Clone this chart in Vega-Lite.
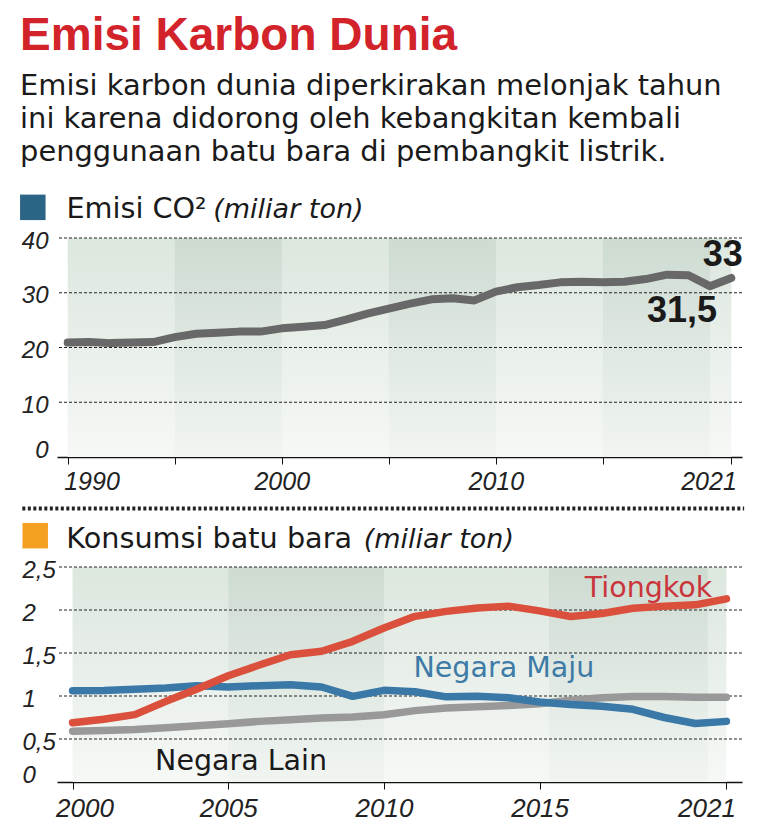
{
  "$schema": "https://vega.github.io/schema/vega-lite/v6.json",
  "background": "white",
  "padding": {"left": 20, "top": 12, "right": 16, "bottom": 4},
  "title": {
    "text": "Emisi Karbon Dunia",
    "subtitle": ["Emisi karbon dunia diperkirakan melonjak tahun", "ini karena didorong oleh kebangkitan kembali", "penggunaan batu bara di pembangkit listrik."],
    "anchor": "start",
    "frame": "bounds",
    "font": "Liberation Sans",
    "fontSize": 46,
    "fontWeight": "bold",
    "color": "#d2232a",
    "subtitleFont": "DejaVu Sans",
    "subtitleFontSize": 28.9,
    "subtitleColor": "#1a1a1a",
    "subtitleLineHeight": 33,
    "subtitlePadding": 12,
    "offset": 27
  },
  "datasets": {
    "co2": [
      {"year": 1990, "value": 20.9}, {"year": 1991, "value": 21.0}, {"year": 1992, "value": 20.8}, {"year": 1993, "value": 20.9},
      {"year": 1994, "value": 21.0}, {"year": 1995, "value": 21.9}, {"year": 1996, "value": 22.5}, {"year": 1997, "value": 22.7},
      {"year": 1998, "value": 22.9}, {"year": 1999, "value": 22.9}, {"year": 2000, "value": 23.5}, {"year": 2001, "value": 23.8},
      {"year": 2002, "value": 24.1}, {"year": 2003, "value": 25.1}, {"year": 2004, "value": 26.2}, {"year": 2005, "value": 27.1},
      {"year": 2006, "value": 28.0}, {"year": 2007, "value": 28.8}, {"year": 2008, "value": 29.0}, {"year": 2009, "value": 28.6},
      {"year": 2010, "value": 30.2}, {"year": 2011, "value": 31.0}, {"year": 2012, "value": 31.4}, {"year": 2013, "value": 31.9},
      {"year": 2014, "value": 32.0}, {"year": 2015, "value": 31.9}, {"year": 2016, "value": 32.0}, {"year": 2017, "value": 32.5},
      {"year": 2018, "value": 33.3}, {"year": 2019, "value": 33.2}, {"year": 2020, "value": 31.2}, {"year": 2021, "value": 32.7}
    ],
    "coal": [
      {"year": 2000, "series": "Negara Lain", "value": 0.59}, {"year": 2001, "series": "Negara Lain", "value": 0.60},
      {"year": 2002, "series": "Negara Lain", "value": 0.61}, {"year": 2003, "series": "Negara Lain", "value": 0.63},
      {"year": 2004, "series": "Negara Lain", "value": 0.655}, {"year": 2005, "series": "Negara Lain", "value": 0.678},
      {"year": 2006, "series": "Negara Lain", "value": 0.705}, {"year": 2007, "series": "Negara Lain", "value": 0.725},
      {"year": 2008, "series": "Negara Lain", "value": 0.744}, {"year": 2009, "series": "Negara Lain", "value": 0.756},
      {"year": 2010, "series": "Negara Lain", "value": 0.783}, {"year": 2011, "series": "Negara Lain", "value": 0.83},
      {"year": 2012, "series": "Negara Lain", "value": 0.86}, {"year": 2013, "series": "Negara Lain", "value": 0.875},
      {"year": 2014, "series": "Negara Lain", "value": 0.89}, {"year": 2015, "series": "Negara Lain", "value": 0.91},
      {"year": 2016, "series": "Negara Lain", "value": 0.95}, {"year": 2017, "series": "Negara Lain", "value": 0.98},
      {"year": 2018, "series": "Negara Lain", "value": 0.995}, {"year": 2019, "series": "Negara Lain", "value": 0.995},
      {"year": 2020, "series": "Negara Lain", "value": 0.985}, {"year": 2021, "series": "Negara Lain", "value": 0.985},
      {"year": 2000, "series": "Negara Maju", "value": 1.062}, {"year": 2001, "series": "Negara Maju", "value": 1.065},
      {"year": 2002, "series": "Negara Maju", "value": 1.078}, {"year": 2003, "series": "Negara Maju", "value": 1.093},
      {"year": 2004, "series": "Negara Maju", "value": 1.12}, {"year": 2005, "series": "Negara Maju", "value": 1.105},
      {"year": 2006, "series": "Negara Maju", "value": 1.12}, {"year": 2007, "series": "Negara Maju", "value": 1.132},
      {"year": 2008, "series": "Negara Maju", "value": 1.105}, {"year": 2009, "series": "Negara Maju", "value": 0.996},
      {"year": 2010, "series": "Negara Maju", "value": 1.066}, {"year": 2011, "series": "Negara Maju", "value": 1.05},
      {"year": 2012, "series": "Negara Maju", "value": 0.99}, {"year": 2013, "series": "Negara Maju", "value": 0.996},
      {"year": 2014, "series": "Negara Maju", "value": 0.98}, {"year": 2015, "series": "Negara Maju", "value": 0.93},
      {"year": 2016, "series": "Negara Maju", "value": 0.90}, {"year": 2017, "series": "Negara Maju", "value": 0.88},
      {"year": 2018, "series": "Negara Maju", "value": 0.845}, {"year": 2019, "series": "Negara Maju", "value": 0.75},
      {"year": 2020, "series": "Negara Maju", "value": 0.68}, {"year": 2021, "series": "Negara Maju", "value": 0.705},
      {"year": 2000, "series": "Tiongkok", "value": 0.69}, {"year": 2001, "series": "Tiongkok", "value": 0.73},
      {"year": 2002, "series": "Tiongkok", "value": 0.783}, {"year": 2003, "series": "Tiongkok", "value": 0.938},
      {"year": 2004, "series": "Tiongkok", "value": 1.081}, {"year": 2005, "series": "Tiongkok", "value": 1.236},
      {"year": 2006, "series": "Tiongkok", "value": 1.36}, {"year": 2007, "series": "Tiongkok", "value": 1.48},
      {"year": 2008, "series": "Tiongkok", "value": 1.52}, {"year": 2009, "series": "Tiongkok", "value": 1.636},
      {"year": 2010, "series": "Tiongkok", "value": 1.79}, {"year": 2011, "series": "Tiongkok", "value": 1.926},
      {"year": 2012, "series": "Tiongkok", "value": 1.984}, {"year": 2013, "series": "Tiongkok", "value": 2.023},
      {"year": 2014, "series": "Tiongkok", "value": 2.045}, {"year": 2015, "series": "Tiongkok", "value": 1.99},
      {"year": 2016, "series": "Tiongkok", "value": 1.925}, {"year": 2017, "series": "Tiongkok", "value": 1.96},
      {"year": 2018, "series": "Tiongkok", "value": 2.02}, {"year": 2019, "series": "Tiongkok", "value": 2.045},
      {"year": 2020, "series": "Tiongkok", "value": 2.06}, {"year": 2021, "series": "Tiongkok", "value": 2.13}
    ],
    "bgTop": [{"start": 1990, "end": 2021}],
    "bandsTop": [{"start": 1995, "end": 2000}, {"start": 2005, "end": 2010}, {"start": 2015, "end": 2020}],
    "gridTop": [{"v": 10}, {"v": 20}, {"v": 30}, {"v": 40}],
    "bgBottom": [{"start": 2000, "end": 2021}],
    "bandsBottom": [{"start": 2005, "end": 2010}, {"start": 2015.3, "end": 2020.4}],
    "gridBottom": [{"v": 0.5}, {"v": 1}, {"v": 1.5}, {"v": 2}, {"v": 2.5}],
    "one": [{}]
  },
  "vconcat": [
    {
      "width": 685,
      "height": 219,
      "layer": [
        {
          "data": {"name": "bgTop"},
          "mark": {"type": "rect", "fill": {"gradient": "linear", "x1": 0, "y1": 0, "x2": 0, "y2": 1, "stops": [{"offset": 0, "color": "#dce7de"}, {"offset": 1, "color": "#f6f8f6"}]}},
          "encoding": {
            "x": {"field": "start", "type": "quantitative", "scale": {"domain": [1989.5, 2021.5], "nice": false, "zero": false},
              "axis": {"title": null, "values": [1990, 1995, 2000, 2005, 2010, 2015, 2021], "format": "d",
                "labelExpr": "datum.value == 1995 || datum.value == 2005 || datum.value == 2015 ? '' : datum.label",
                "grid": false, "domainColor": "#111", "domainWidth": 1.5, "tickColor": "#111", "tickSize": 7, "tickWidth": 1,
                "labelFontSize": 25, "labelFontStyle": "italic", "labelColor": "#222", "labelPadding": 5, "labelFlush": false, "labelOverlap": false,
                "labelAlign": {"expr": "datum.value == 1990 ? 'left' : datum.value == 2021 ? 'right' : 'center'"},
                "labelOffset": {"expr": "datum.value == 1990 ? -4 : datum.value == 2021 ? 5 : 0"}}},
            "x2": {"field": "end"},
            "y": {"datum": 0, "type": "quantitative", "scale": {"domain": [0, 40], "nice": false},
              "axis": {"title": null, "values": [0, 10, 20, 30, 40], "grid": false, "domain": false, "ticks": false, "tickSize": 0,
                "labelFontSize": 24, "labelFontStyle": "italic", "labelColor": "#222", "labelPadding": 9, "labelAlign": "right",
                "labelBaseline": {"expr": "datum.value == 0 ? 'alphabetic' : 'middle'"},
                "labelOffset": {"expr": "datum.value == 0 ? 0 : 3"}}},
            "y2": {"datum": 40}
          }
        },
        {
          "data": {"name": "bandsTop"},
          "mark": {"type": "rect", "fill": {"gradient": "linear", "x1": 0, "y1": 0, "x2": 0, "y2": 1, "stops": [{"offset": 0, "color": "#cddbd1"}, {"offset": 1, "color": "#f1f5f2"}]}},
          "encoding": {
            "x": {"field": "start", "type": "quantitative"},
            "x2": {"field": "end"},
            "y": {"datum": 0, "type": "quantitative"},
            "y2": {"datum": 40}
          }
        },
        {
          "data": {"name": "gridTop"},
          "mark": {"type": "rule", "color": "#222", "strokeWidth": 1, "strokeDash": [3, 2]},
          "encoding": {"y": {"field": "v", "type": "quantitative"}}
        },
        {
          "data": {"name": "co2"},
          "mark": {"type": "line", "color": "#686868", "strokeWidth": 8, "strokeCap": "round", "strokeJoin": "round"},
          "encoding": {
            "x": {"field": "year", "type": "quantitative"},
            "y": {"field": "value", "type": "quantitative"}
          }
        },
        {
          "data": {"name": "one"},
          "mark": {"type": "text", "text": "33", "font": "Liberation Sans", "fontSize": 36, "fontWeight": "bold", "color": "#1a1a1a", "align": "center", "baseline": "alphabetic"},
          "encoding": {"x": {"datum": 2020.6, "type": "quantitative"}, "y": {"datum": 34.8, "type": "quantitative"}}
        },
        {
          "data": {"name": "one"},
          "mark": {"type": "text", "text": "31,5", "font": "Liberation Sans", "fontSize": 36, "fontWeight": "bold", "color": "#1a1a1a", "align": "center", "baseline": "alphabetic"},
          "encoding": {"x": {"datum": 2018.7, "type": "quantitative"}, "y": {"datum": 24.6, "type": "quantitative"}}
        },
        {
          "data": {"name": "one"},
          "mark": {"type": "point", "shape": "square", "filled": true, "size": 650, "color": "#2c6486", "opacity": 1},
          "encoding": {"x": {"datum": 1988.37, "type": "quantitative"}, "y": {"datum": 45.6, "type": "quantitative"}}
        },
        {
          "data": {"name": "one"},
          "mark": {"type": "text", "text": "Emisi CO²", "font": "DejaVu Sans", "fontSize": 28.7, "color": "#1a1a1a", "align": "left", "baseline": "alphabetic"},
          "encoding": {"x": {"datum": 1989.94, "type": "quantitative"}, "y": {"datum": 43.6, "type": "quantitative"}}
        },
        {
          "data": {"name": "one"},
          "mark": {"type": "text", "text": "(miliar ton)", "font": "DejaVu Sans", "fontSize": 27, "fontStyle": "italic", "color": "#1a1a1a", "align": "left", "baseline": "alphabetic"},
          "encoding": {"x": {"datum": 1996.8, "type": "quantitative"}, "y": {"datum": 43.6, "type": "quantitative"}}
        },
        {
          "data": {"name": "one"},
          "mark": {"type": "rule", "color": "#222", "strokeWidth": 4, "strokeDash": [3, 2.5]},
          "encoding": {"x": {"datum": 1987.88, "type": "quantitative"}, "x2": {"datum": 2021.6}, "y": {"datum": -9.4, "type": "quantitative"}}
        }
      ]
    },
    {
      "width": 685,
      "height": 215,
      "layer": [
        {
          "data": {"name": "bgBottom"},
          "mark": {"type": "rect", "fill": {"gradient": "linear", "x1": 0, "y1": 0, "x2": 0, "y2": 1, "stops": [{"offset": 0, "color": "#dce7de"}, {"offset": 1, "color": "#f6f8f6"}]}},
          "encoding": {
            "x": {"field": "start", "type": "quantitative", "scale": {"domain": [1999.5, 2021.5], "nice": false, "zero": false},
              "axis": {"title": null, "values": [2000, 2005, 2010, 2015, 2021], "format": "d",
                "grid": false, "domainColor": "#111", "domainWidth": 1.5, "tickColor": "#111", "tickSize": 7, "tickWidth": 1,
                "labelFontSize": 26, "labelFontStyle": "italic", "labelColor": "#222", "labelPadding": 6, "labelFlush": false, "labelOverlap": false,
                "labelAlign": {"expr": "datum.value == 2000 ? 'left' : datum.value == 2021 ? 'right' : 'center'"},
                "labelOffset": {"expr": "datum.value == 2000 ? -17 : datum.value == 2021 ? 9 : 0"}}},
            "x2": {"field": "end"},
            "y": {"datum": 0, "type": "quantitative", "scale": {"domain": [0, 2.5], "nice": false},
              "axis": {"title": null, "values": [0, 0.5, 1, 1.5, 2, 2.5], "format": "~g", "labelExpr": "replace(datum.label, '.', ',')",
                "grid": false, "domain": false, "ticks": false, "tickSize": 0,
                "labelFontSize": 24, "labelFontStyle": "italic", "labelColor": "#222", "labelPadding": 35, "labelAlign": "left",
                "labelBaseline": {"expr": "datum.value == 0 ? 'alphabetic' : 'middle'"},
                "labelOffset": {"expr": "datum.value == 0 ? 0 : 3"}}},
            "y2": {"datum": 2.5}
          }
        },
        {
          "data": {"name": "bandsBottom"},
          "mark": {"type": "rect", "fill": {"gradient": "linear", "x1": 0, "y1": 0, "x2": 0, "y2": 1, "stops": [{"offset": 0, "color": "#cddbd1"}, {"offset": 1, "color": "#f1f5f2"}]}},
          "encoding": {
            "x": {"field": "start", "type": "quantitative"},
            "x2": {"field": "end"},
            "y": {"datum": 0, "type": "quantitative"},
            "y2": {"datum": 2.5}
          }
        },
        {
          "data": {"name": "gridBottom"},
          "mark": {"type": "rule", "color": "#222", "strokeWidth": 1, "strokeDash": [3, 2]},
          "encoding": {"y": {"field": "v", "type": "quantitative"}}
        },
        {
          "data": {"name": "coal"},
          "mark": {"type": "line", "strokeWidth": 7.5, "strokeCap": "round", "strokeJoin": "round"},
          "encoding": {
            "x": {"field": "year", "type": "quantitative"},
            "y": {"field": "value", "type": "quantitative"},
            "color": {"field": "series", "type": "nominal", "legend": null,
              "scale": {"domain": ["Negara Lain", "Negara Maju", "Tiongkok"], "range": ["#999999", "#3a78a8", "#da503c"]}},
            "order": {"field": "year", "type": "quantitative"}
          }
        },
        {
          "data": {"name": "one"},
          "mark": {"type": "text", "text": "Tiongkok", "font": "DejaVu Sans", "fontSize": 28.5, "color": "#c9353b", "align": "left", "baseline": "alphabetic"},
          "encoding": {"x": {"datum": 2016.45, "type": "quantitative"}, "y": {"datum": 2.155, "type": "quantitative"}}
        },
        {
          "data": {"name": "one"},
          "mark": {"type": "text", "text": "Negara Maju", "font": "DejaVu Sans", "fontSize": 28.5, "color": "#3d7ba6", "align": "left", "baseline": "alphabetic"},
          "encoding": {"x": {"datum": 2010.95, "type": "quantitative"}, "y": {"datum": 1.224, "type": "quantitative"}}
        },
        {
          "data": {"name": "one"},
          "mark": {"type": "text", "text": "Negara Lain", "font": "DejaVu Sans", "fontSize": 28.5, "color": "#1a1a1a", "align": "left", "baseline": "alphabetic"},
          "encoding": {"x": {"datum": 2002.65, "type": "quantitative"}, "y": {"datum": 0.143, "type": "quantitative"}}
        },
        {
          "data": {"name": "one"},
          "mark": {"type": "point", "shape": "square", "filled": true, "size": 650, "color": "#f4a021", "opacity": 1},
          "encoding": {"x": {"datum": 1998.8, "type": "quantitative"}, "y": {"datum": 2.864, "type": "quantitative"}}
        },
        {
          "data": {"name": "one"},
          "mark": {"type": "text", "text": "Konsumsi batu bara", "font": "DejaVu Sans", "fontSize": 28.7, "color": "#1a1a1a", "align": "left", "baseline": "alphabetic"},
          "encoding": {"x": {"datum": 1999.8, "type": "quantitative"}, "y": {"datum": 2.724, "type": "quantitative"}}
        },
        {
          "data": {"name": "one"},
          "mark": {"type": "text", "text": "(miliar ton)", "font": "DejaVu Sans", "fontSize": 27, "fontStyle": "italic", "color": "#1a1a1a", "align": "left", "baseline": "alphabetic"},
          "encoding": {"x": {"datum": 2009.35, "type": "quantitative"}, "y": {"datum": 2.724, "type": "quantitative"}}
        }
      ]
    }
  ],
  "spacing": 11,
  "config": {
    "view": {"stroke": null},
    "axis": {"labelFont": "Liberation Sans"},
    "title": {"font": "Liberation Sans"}
  }
}
